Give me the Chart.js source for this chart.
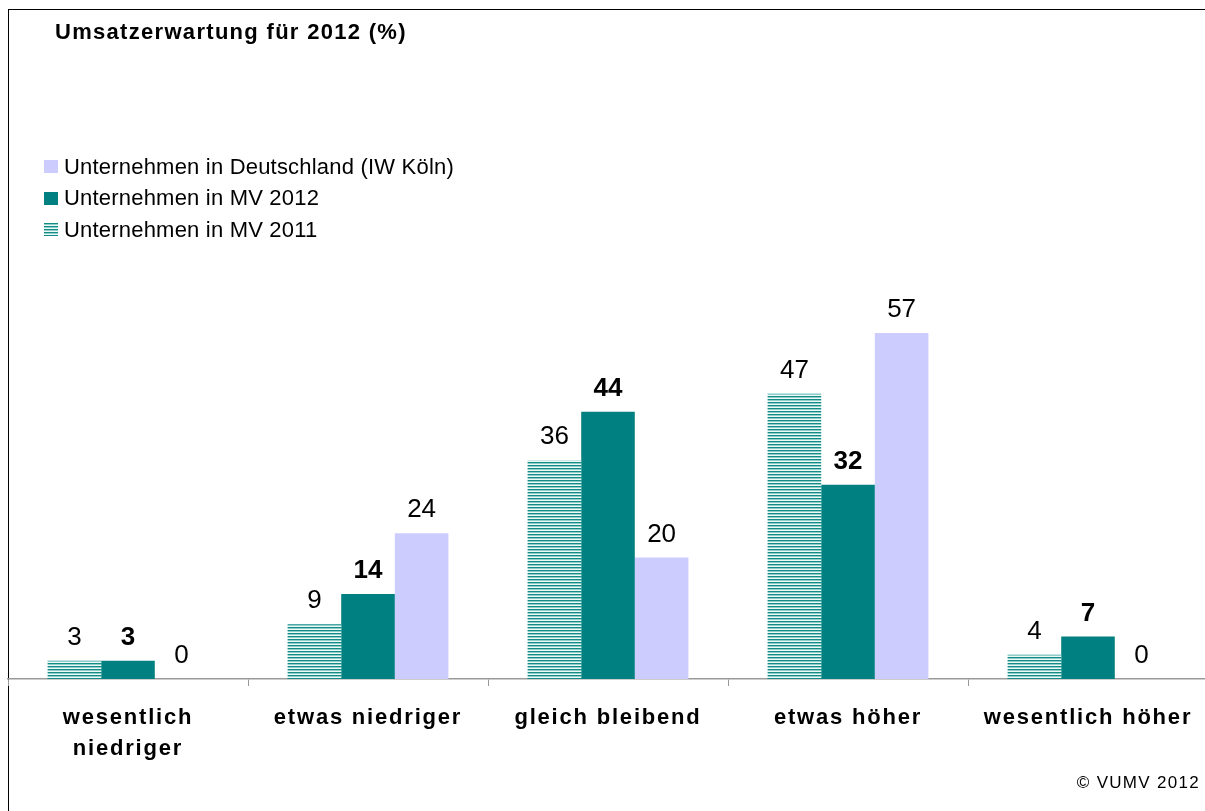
<!DOCTYPE html>
<html>
<head>
<meta charset="utf-8">
<script src="https://cdn.jsdelivr.net/npm/chart.js@4.4.1/dist/chart.umd.min.js"></script>
<style>
    html, body { margin: 0; padding: 0; background: #fff; overflow: hidden; }
    body { width: 1205px; height: 811px; position: relative; font-family: "Liberation Sans", Arial, sans-serif; }
    #frame { position: absolute; left: 8px; top: 9px; width: 1210px; height: 820px; border-top: 1.5px solid #000; border-left: 1.5px solid #000; }
    #chart-wrap { position: absolute; left: 0; top: 0; width: 1208px; height: 811px; }
    #title { position: absolute; left: 55px; top: 19px; font-size: 22px; font-weight: bold; letter-spacing: 1.3px; color: #000; }
    #legend { position: absolute; left: 44px; top: 151px; font-size: 22px; letter-spacing: 0.2px; color: #000; }
    .legend-row { height: 31.5px; display: flex; align-items: center; }
    .legend-box { width: 14px; height: 13px; margin-right: 6px; }
    #copyright { position: absolute; right: 5px; top: 773px; font-size: 17px; letter-spacing: 1.3px; color: #000; }
</style>
</head>
<body>
<div id="frame"></div>
<div id="chart-wrap"><canvas id="sales-chart" width="1208" height="811"></canvas></div>
<div id="title">Umsatzerwartung für 2012 (%)</div>
<div id="legend"></div>
<div id="copyright">© VUMV 2012</div>
<script>
const categories = [['wesentlich', 'niedriger'], 'etwas niedriger', 'gleich bleibend', 'etwas höher', 'wesentlich höher'];
const seriesNames = ['Unternehmen in MV 2011', 'Unternehmen in MV 2012', 'Unternehmen in Deutschland (IW Köln)'];
const mv2011 = [3, 9, 36, 47, 4];
const mv2012 = [3, 14, 44, 32, 7];
const deutschland = [0, 24, 20, 57, 0];

// horizontal stripes for the 2011 series
function makeStripes() {
    const c = document.createElement('canvas');
    c.width = 4;
    c.height = 3;
    const g = c.getContext('2d');
    g.fillStyle = '#138c87'; g.fillRect(0, 0, 4, 1);
    g.fillStyle = '#8fcdc9'; g.fillRect(0, 1, 4, 1);
    g.fillStyle = '#eef8f7'; g.fillRect(0, 2, 4, 1);
    return g.createPattern(c, 'repeat');
}

const stripes = makeStripes();
const colors = [stripes, '#008080', '#ccccff'];

// html legend, reversed order like the original
const legendEl = document.getElementById('legend');
[2, 1, 0].forEach(i => {
    const row = document.createElement('div');
    row.className = 'legend-row';
    const box = document.createElement('div');
    box.className = 'legend-box';
    if (i === 0) {
        box.style.background = 'repeating-linear-gradient(to bottom, #138c87 0 1px, #8fcdc9 1px 2px, #eef8f7 2px 3px)';
    } else {
        box.style.background = colors[i];
    }
    row.appendChild(box);
    const txt = document.createElement('span');
    txt.textContent = seriesNames[i];
    row.appendChild(txt);
    legendEl.appendChild(row);
});

// spaced-out axis labels, normal spacing again for the bars and values
const letterSpacing = {
    id: 'letterSpacing',
    beforeDraw(chart) {
        chart.ctx.letterSpacing = '1.8px';
    },
    beforeDatasetsDraw(chart) {
        chart.ctx.letterSpacing = '0px';
    }
};

const valueLabels = {
    id: 'valueLabels',
    afterDatasetsDraw(chart) {
        const ctx = chart.ctx;
        ctx.save();
        ctx.letterSpacing = '0px';
        ctx.fillStyle = '#000';
        ctx.textAlign = 'center';
        ctx.textBaseline = 'alphabetic';
        chart.data.datasets.forEach((ds, di) => {
            const meta = chart.getDatasetMeta(di);
            ctx.font = (di === 1 ? 'bold ' : '') + '26px "Liberation Sans", Arial, sans-serif';
            meta.data.forEach((bar, i) => {
                ctx.fillText(String(ds.data[i]), bar.x, bar.y - 16);
            });
        });
        ctx.restore();
    }
};

const ctx = document.getElementById('sales-chart').getContext('2d');
new Chart(ctx, {
    type: 'bar',
    data: {
        labels: categories,
        datasets: [
            { label: seriesNames[0], data: mv2011, backgroundColor: colors[0] },
            { label: seriesNames[1], data: mv2012, backgroundColor: colors[1] },
            { label: seriesNames[2], data: deutschland, backgroundColor: colors[2] }
        ]
    },
    options: {
        responsive: false,
        animation: false,
        layout: { padding: { left: 8, right: 0, top: 254, bottom: 0 } },
        datasets: {
            bar: { categoryPercentage: 0.67, barPercentage: 1.0, borderWidth: 0 }
        },
        scales: {
            x: {
                grid: { drawOnChartArea: false, drawTicks: true, tickLength: 7, color: '#999', offset: true },
                border: { display: true, color: '#999', width: 1.5 },
                ticks: {
                    color: '#000',
                    padding: 16,
                    maxRotation: 0,
                    autoSkip: false,
                    font: { family: '"Liberation Sans", Arial, sans-serif', size: 22, weight: 'bold', lineHeight: 1.42 }
                },
                afterFit: function(scale) {
                    scale.height = 132;
                }
            },
            y: {
                display: false,
                min: 0,
                max: 70
            }
        },
        plugins: {
            legend: { display: false },
            tooltip: { enabled: false }
        }
    },
    plugins: [letterSpacing, valueLabels]
});
</script>
</body>
</html>
